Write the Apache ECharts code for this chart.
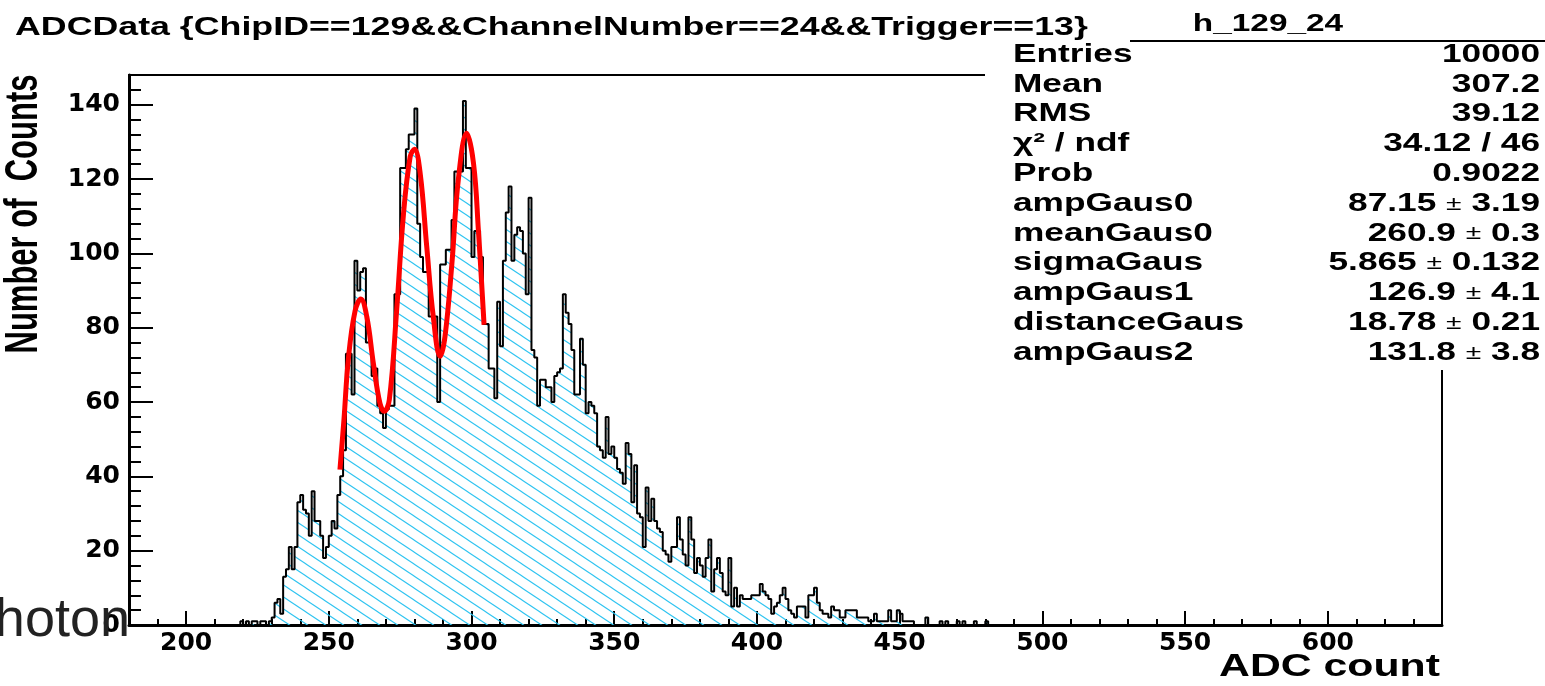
<!DOCTYPE html>
<html lang="en">
<head>
<meta charset="UTF-8">
<title>h_129_24</title>
<script src="https://cdn.jsdelivr.net/npm/echarts@6/dist/echarts.min.js"></script>
<style>
  html, body { margin: 0; padding: 0; background: #fff; }
  #chart { width: 1545px; height: 686px; }
</style>
</head>
<body>
<div id="chart"></div>
<script>
/*
 * histogram, one ADC count per bin, first bin starts at binStart
 */
var binStart = 219;
var counts = [
  1,0,1,0,1,1,0,1,1,0,1,2,
  6,7,3,13,15,21,15,21,33,35,
  31,30,24,36,28,28,24,18,21,24,
  28,26,35,40,47,73,73,62,98,90,
  95,96,76,76,67,69,59,57,53,58,
  59,59,89,89,123,123,128,132,132,139,
  108,99,95,95,83,83,83,60,97,97,
  101,101,109,122,122,122,141,123,123,99,
  106,106,99,81,81,69,69,61,87,75,
  98,111,118,98,105,107,106,100,89,115,
  74,72,59,66,66,64,64,60,67,68,
  69,89,84,81,74,62,62,77,70,57,
  60,59,57,48,47,45,56,46,48,45,
  42,41,38,49,46,33,43,30,29,21,
  37,28,34,28,26,25,20,19,17,21,
  21,29,23,19,16,29,23,14,18,16,
  13,18,23,9,15,18,14,9,8,18,
  5,10,5,8,7,7,7,8,8,8,
  11,9,8,7,3,5,6,8,10,7,
  4,3,2,5,5,5,2,8,8,10,
  6,4,3,3,2,5,4,4,2,2,
  4,4,4,4,2,2,2,2,1,1,
  3,1,1,1,1,4,1,1,4,3,
  1,1,1,1,0,0,0,0,2,0,
  0,0,0,1,0,1,0,0,0,1,
  0,1,0,0,0,1,0,0,0,1
];

// red fit curve
var fitX = [253.9,255.3,256.9,259.2,261.2,263.3,265.6,267.9,269.4,271.2,273.8,276.1,278.5,280.0,282.0,284.3,286.6,289.0,290.7,293.1,295.4,298.3,300.7,302.4,304.4];
var fitY = [41.8,55.2,72.0,84.5,87.7,83.0,70.5,59.7,57.5,60.6,85.0,110.0,126.0,128.0,121.6,101.9,83.0,72.3,77.6,97.0,120.0,132.3,124.2,106.3,80.8];

var xMajor = [200,250,300,350,400,450,500,550,600];
var xMinor = [190,210,220,230,240,260,270,280,290,310,320,330,340,360,370,380,390,410,420,430,440,460,470,480,490,510,520,530,540,560,570,580,590,610,620,630];
var yMajor = [0,20,40,60,80,100,120,140];
var yMinor = [4,8,12,16,24,28,32,36,44,48,52,56,64,68,72,76,84,88,92,96,104,108,112,116,124,128,132,136,144];

var statNames = ['Entries','Mean','RMS','\u03c7\u00b2 / ndf','Prob','ampGaus0','meanGaus0','sigmaGaus','ampGaus1','distanceGaus','ampGaus2'];
var statValues = ['10000','307.2','39.12','34.12 / 46','0.9022','87.15 \u00b1 3.19','260.9 \u00b1 0.3','5.865 \u00b1 0.132','126.9 \u00b1 4.1','18.78 \u00b1 0.21','131.8 \u00b1 3.8'];

/*
 * hatch pattern for the histogram fill
 */
function makeHatch(){
	var c=document.createElement('canvas');
	c.width=18;
	c.height=12;
	var g=c.getContext('2d');
	g.strokeStyle='#2cc3f0';
	g.lineWidth=1.1;
	for(var k=-1;k<=1;k++){
		g.beginPath();
		g.moveTo(-18,-12+k*12);
		g.lineTo(36,24+k*12);
		g.stroke();
	}
	return c;
}

var histData=[[binStart,0]];
for(var i=0;i<counts.length;i++){
	histData.push([binStart+i,counts[i]]);
}
histData.push([binStart+counts.length,0]);

var fitData=[];
for(var j=0;j<fitX.length;j++){
	fitData.push([fitX[j],fitY[j]]);
}

var tickFont='"DejaVu Sans"';
var boldFont='bold 25px "Liberation Sans"';

var graphics=[
	{type:'rect',z:100,shape:{x:985,y:0,width:560,height:370},style:{fill:'#fff'}},
	{type:'text',z:101,x:15,y:28,scaleX:1.43,style:{text:'ADCData {ChipID==129&&ChannelNumber==24&&Trigger==13}',font:boldFont,fill:'#000',align:'left',verticalAlign:'middle',textAlign:'left',textVerticalAlign:'middle'}},
	{type:'text',z:101,x:1268,y:24,scaleX:1.39,style:{text:'h_129_24',font:'bold 24px "Liberation Sans"',fill:'#000',align:'center',verticalAlign:'middle',textAlign:'center',textVerticalAlign:'middle'}},
	{type:'line',z:101,shape:{x1:1130,y1:41,x2:1545,y2:41},style:{stroke:'#000',lineWidth:2}},
	{type:'text',z:101,x:1440,y:667,scaleX:1.38,style:{text:'ADC count',font:'bold 31px "Liberation Sans"',fill:'#000',align:'right',verticalAlign:'middle',textAlign:'right',textVerticalAlign:'middle'}},
	{type:'text',z:101,x:24,y:214,rotation:Math.PI/2,scaleY:1.5,style:{text:'Number of  Counts',font:'bold 31px "Liberation Sans"',fill:'#000',align:'center',verticalAlign:'middle',textAlign:'center',textVerticalAlign:'middle'}},
	{type:'text',z:101,x:130,y:621,style:{text:'photon',font:'54px "Liberation Sans"',fill:'#222',align:'right',verticalAlign:'middle',textAlign:'right',textVerticalAlign:'middle'}}
];
$each=function(arr,fn){for(var n=0;n<arr.length;n++){fn(n,arr[n]);}};
$each(statNames,function(n,name){
	var y=55+n*29.8;
	graphics.push({type:'text',z:101,x:1013,y:y,scaleX:1.41,style:{text:name,font:boldFont,fill:'#000',align:'left',verticalAlign:'middle',textAlign:'left',textVerticalAlign:'middle'}});
	graphics.push({type:'text',z:101,x:1540,y:y,scaleX:1.41,style:{text:statValues[n].replace('\u00b1','{pm|\u00b1}'),font:boldFont,fill:'#000',align:'right',verticalAlign:'middle',textAlign:'right',textVerticalAlign:'middle',rich:{pm:{font:'20px "Liberation Sans"',fill:'#000'}}}});
});

var myChart=echarts.init(document.getElementById('chart'));
var option={
	animation:false,
	backgroundColor:'#fff',
	grid:{left:129,top:75,width:1313,height:550,show:true,borderColor:'#000',borderWidth:2,backgroundColor:'transparent'},
	xAxis:[
		{type:'value',min:180,max:640,position:'bottom',
		 axisLine:{lineStyle:{color:'#000',width:3}},
		 axisTick:{inside:true,length:14,customValues:xMajor,lineStyle:{color:'#000',width:2}},
		 axisLabel:{customValues:xMajor,margin:6,color:'#000',fontFamily:tickFont,fontWeight:'bold',fontSize:25},
		 splitLine:{show:false}},
		{type:'value',min:180,max:640,position:'bottom',
		 axisLine:{show:false},
		 axisTick:{inside:true,length:6,customValues:xMinor,lineStyle:{color:'#000',width:2}},
		 axisLabel:{show:false},
		 splitLine:{show:false}}
	],
	yAxis:[
		{type:'value',min:0,max:148,position:'left',
		 axisLine:{show:true,lineStyle:{color:'#000',width:3}},
		 axisTick:{show:true,inside:true,length:24,customValues:yMajor,lineStyle:{color:'#000',width:2}},
		 axisLabel:{customValues:yMajor,margin:9,color:'#000',fontFamily:tickFont,fontWeight:'bold',fontSize:25},
		 splitLine:{show:false}},
		{type:'value',min:0,max:148,position:'left',
		 axisLine:{show:false},
		 axisTick:{show:true,inside:true,length:12,customValues:yMinor,lineStyle:{color:'#000',width:2}},
		 axisLabel:{show:false},
		 splitLine:{show:false}}
	],
	series:[
		{type:'line',name:'h_129_24',xAxisIndex:0,yAxisIndex:0,step:'end',symbol:'none',
		 data:histData,
		 lineStyle:{color:'#000',width:2},
		 areaStyle:{color:{image:makeHatch(),repeat:'repeat'},opacity:1},
		 z:2},
		{type:'line',name:'fit',xAxisIndex:0,yAxisIndex:0,smooth:0.4,symbol:'none',
		 data:fitData,
		 lineStyle:{color:'#ff0000',width:5},
		 z:3}
	],
	graphic:graphics
};
myChart.setOption(option,true);
</script>
</body>
</html>
